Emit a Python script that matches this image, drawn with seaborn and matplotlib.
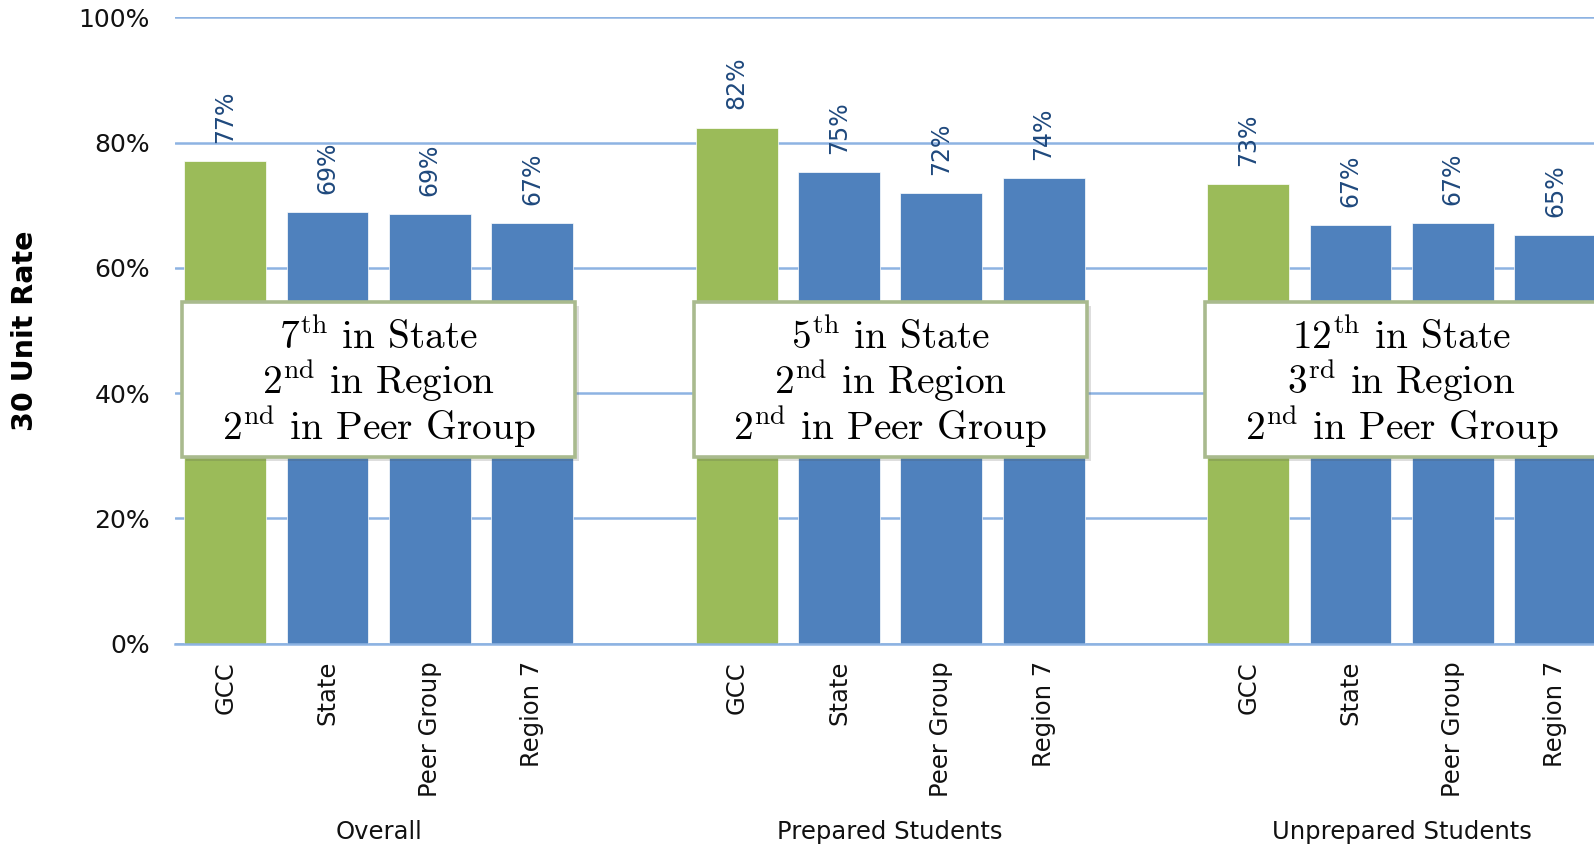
import numpy as np
import pandas as pd
import matplotlib
matplotlib.use("Agg")
import matplotlib.pyplot as plt
import matplotlib.patheffects as pe
import matplotlib.transforms as mtrans
from matplotlib.patches import Rectangle
from matplotlib.ticker import FuncFormatter
import seaborn as sns

# ---- data ----
groups = ["Overall", "Prepared Students", "Unprepared Students"]
entities = ["GCC", "State", "Peer Group", "Region 7"]
overall = [77.0, 68.9, 68.6, 67.2]
prepared = [82.4, 75.3, 71.9, 74.3]
unprepared = [73.4, 66.9, 67.2, 65.3]
rank_lines = [
    ["7$^{\\mathrm{th}}$ in State", "2$^{\\mathrm{nd}}$ in Region", "2$^{\\mathrm{nd}}$ in Peer Group"],
    ["5$^{\\mathrm{th}}$ in State", "2$^{\\mathrm{nd}}$ in Region", "2$^{\\mathrm{nd}}$ in Peer Group"],
    ["12$^{\\mathrm{th}}$ in State", "3$^{\\mathrm{rd}}$ in Region", "2$^{\\mathrm{nd}}$ in Peer Group"],
]
y_ticks = [0, 20, 40, 60, 80, 100]

GREEN = "#9BBB59"
BLUE = "#4F81BD"
GRID = "#8DB3E2"
LABEL = "#1F497D"
BOX_EDGE = "#A9BA8E"
TEXT = "#111111"

# one empty slot between groups
slot = len(entities) + 1
rows = []
for g, vals in enumerate([overall, prepared, unprepared]):
    for i, (e, v) in enumerate(zip(entities, vals)):
        rows.append({"pos": g * slot + i, "entity": e, "group": groups[g],
                     "rate": v, "kind": "GCC" if e == "GCC" else "other"})
df = pd.DataFrame(rows)

sns.set_theme(style="white")
plt.rcParams["font.family"] = ["DejaVu Sans"]
plt.rcParams["mathtext.fontset"] = "cm"

fig = plt.figure(figsize=(15.94, 8.46), dpi=100)
ax = fig.add_axes([175 / 1594, 1 - 643.5 / 846, 1 - 175 / 1594, (643.5 - 17.3) / 846])

sns.barplot(data=df, x="pos", y="rate", hue="kind", orient="x",
            palette={"GCC": GREEN, "other": BLUE}, native_scale=True,
            dodge=False, width=0.8, saturation=1, legend=False,
            edgecolor="white", linewidth=0.5, ax=ax)

for c in ax.containers:
    ax.bar_label(c, fmt=lambda v: f"{v:.0f}%", rotation=90, padding=13,
                 fontsize=17, color=LABEL)

ax.set_xlim(-0.49, 13.38)
ax.set_ylim(0, 100)
ax.set_yticks(y_ticks)
ax.yaxis.set_major_formatter(FuncFormatter(lambda v, _: f"{v:.0f}%"))
ax.tick_params(axis="y", length=0, pad=18, labelsize=18, labelcolor=TEXT)
ax.set_xticks(df["pos"], df["entity"], rotation=90, fontsize=17.5)
ax.tick_params(axis="x", length=0, pad=12.5, labelcolor=TEXT)
ax.set_xlabel("")
ax.set_axisbelow(True)
ax.yaxis.grid(True, color=GRID, linewidth=1.8)
ax.xaxis.grid(False)
for s in ax.spines.values():
    s.set_visible(False)
ax.spines["bottom"].set_visible(True)
ax.spines["bottom"].set_color(GRID)
ax.spines["bottom"].set_linewidth(1.8)

ax.set_ylabel("30 Unit Rate", fontsize=20.5, fontweight="bold", va="center", color="black")
ax.yaxis.set_label_coords((25.4 - 175) / 1419, 0.5)

# group names under the tick labels
trans = mtrans.blended_transform_factory(ax.transData, ax.transAxes)
for g, name in enumerate(groups):
    centre = df.loc[df["group"] == name, "pos"].mean()
    ax.text(centre, -0.3004, name, transform=trans, ha="center", va="center",
            fontsize=17.5, color=TEXT)

# ranking boxes
for g, lines in enumerate(rank_lines):
    centre = df.loc[df["group"] == groups[g], "pos"].mean()
    box = Rectangle((centre - 1.92, 29.75), 3.84, 24.8, facecolor="white",
                    edgecolor=BOX_EDGE, linewidth=2.6, zorder=5,
                    path_effects=[pe.SimplePatchShadow(offset=(3, -3), alpha=0.18),
                                  pe.Normal()])
    ax.add_patch(box)
    for k, (line, yb) in enumerate(zip(lines, [47.0, 39.8, 32.55])):
        ax.text(centre, yb, line, ha="center", va="baseline", fontsize=28.3,
                family="cmr10", color="black", zorder=6, clip_on=True)

fig.savefig("out.png", dpi=100)
